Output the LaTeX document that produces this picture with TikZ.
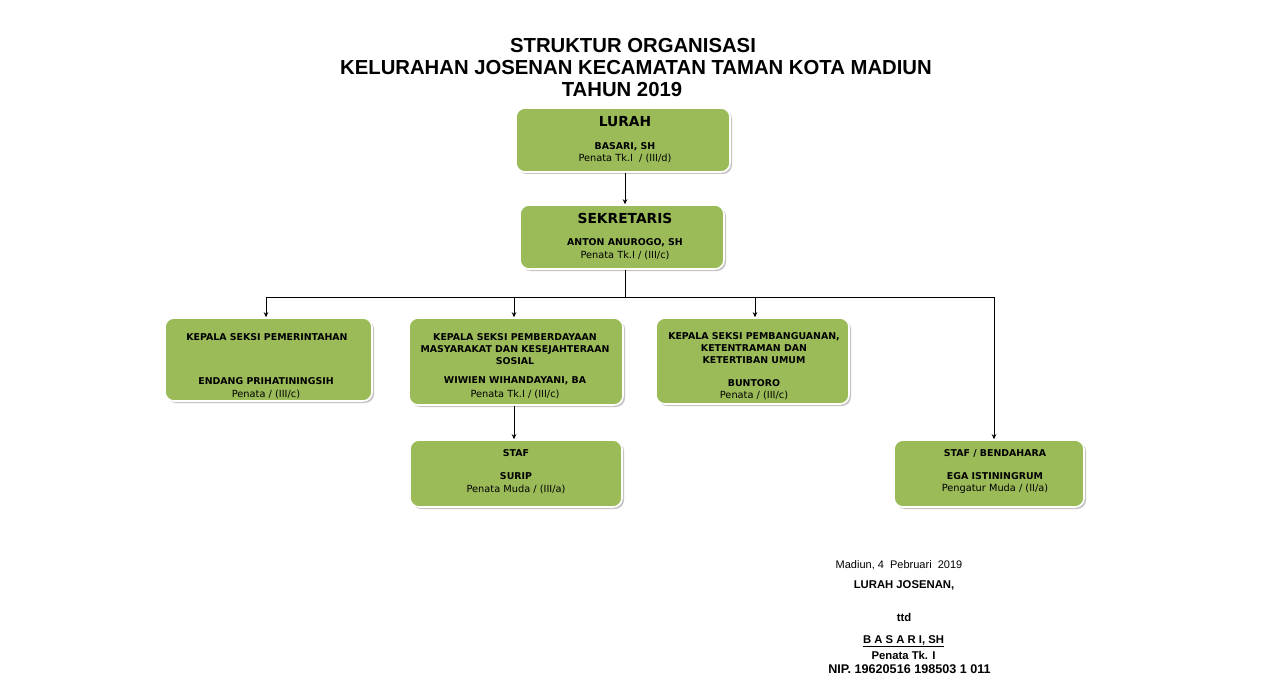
\documentclass[tikz,border=0pt]{standalone}
\usepackage{fontspec}
\setmainfont{DejaVu Sans}
\newfontfamily\arialfont{Liberation Sans}
\usepackage{tikz}
\usetikzlibrary{positioning}
\usetikzlibrary{arrows.meta}
\usetikzlibrary{shadows}

\definecolor{boxgreen}{HTML}{9BBB59}

\tikzset{
    box/.style={draw=white, line width=1.6pt, fill=boxgreen, rounded corners=9pt,
        drop shadow={shadow xshift=2pt, shadow yshift=-2pt, fill=black!45, opacity=0.5}},
    head/.style={inner sep=0pt, align=center, font=\fontsize{9.4}{12}\selectfont\bfseries},
    bighead/.style={inner sep=0pt, font=\fontsize{13.8}{16}\selectfont\bfseries},
    rank/.style={inner sep=0pt, font=\fontsize{9.8}{11}\selectfont},
    sign/.style={inner sep=0pt, font=\arialfont\fontsize{11}{13}\selectfont},
    signb/.style={inner sep=0pt, font=\arialfont\fontsize{11.3}{13}\selectfont\bfseries},
    arr/.style={-{Stealth[length=5pt, width=4.5pt]}, line width=0.7pt},
    conn/.style={line width=0.7pt}
}

\begin{document}
\begin{tikzpicture}[x=1pt, y=-1pt]
    \useasboundingbox[fill=white] (0,0) rectangle (1277,695);

    % title
    \node (title1) at (633,46) [inner sep=0pt, font=\arialfont\fontsize{20.3}{22}\selectfont\bfseries] {STRUKTUR ORGANISASI};
    \node (title2) at (636,68) [inner sep=0pt, font=\arialfont\fontsize{20.3}{22}\selectfont\bfseries] {KELURAHAN JOSENAN KECAMATAN TAMAN KOTA MADIUN};
    \node (title3) at (622,90) [inner sep=0pt, font=\arialfont\fontsize{20.3}{22}\selectfont\bfseries] {TAHUN 2019};

    % boxes
    \node (lurah) at (623,140) [box, minimum width=214pt, minimum height=64pt] {};
    \node (sekr) at (622,237) [box, minimum width=204pt, minimum height=64pt] {};
    \node (kspem) at (268.5,359.5) [box, minimum width=207pt, minimum height=83pt] {};
    \node (ksmas) at (516,361.5) [box, minimum width=214pt, minimum height=87pt] {};
    \node (ksbang) at (752.5,361) [box, minimum width=193pt, minimum height=86pt] {};
    \node (staf) at (516,473.5) [box, minimum width=212pt, minimum height=67pt] {};
    \node (bend) at (989,473.5) [box, minimum width=190pt, minimum height=67pt] {};

    % box texts
    \node (lurahT) at (625,122) [bighead] {LURAH};
    \node (lurahN) at (625,147) [head] {BASARI, SH};
    \node (lurahR) at (625,158) [rank] {Penata Tk.I \ / (III/d)};
    \node (sekrT) at (625,218) [bighead] {SEKRETARIS};
    \node (sekrN) at (625,243) [head] {ANTON ANUROGO, SH};
    \node (sekrR) at (625,255) [rank] {Penata Tk.I / (III/c)};
    \node (kspemT) at (267,337) [head] {KEPALA SEKSI PEMERINTAHAN};
    \node (kspemN) at (266,381) [head] {ENDANG PRIHATININGSIH};
    \node (kspemR) at (266,394) [rank] {Penata / (III/c)};
    \node (ksmasT) at (515,349) [head] {KEPALA SEKSI PEMBERDAYAAN\\MASYARAKAT DAN KESEJAHTERAAN\\SOSIAL};
    \node (ksmasN) at (515,381) [head] {WIWIEN WIHANDAYANI, BA};
    \node (ksmasR) at (515,394) [rank] {Penata Tk.I / (III/c)};
    \node (ksbangT) at (754,348.5) [head] {KEPALA SEKSI PEMBANGUANAN,\\KETENTRAMAN DAN\\KETERTIBAN UMUM};
    \node (ksbangN) at (754,383) [head] {BUNTORO};
    \node (ksbangR) at (754,395) [rank] {Penata / (III/c)};
    \node (stafT) at (516,453) [head] {STAF};
    \node (stafN) at (516,476) [head] {SURIP};
    \node (stafR) at (516,489) [rank] {Penata Muda / (III/a)};
    \node (bendT) at (995,453) [head] {STAF / BENDAHARA};
    \node (bendN) at (995,476) [head] {EGA ISTININGRUM};
    \node (bendR) at (995,489) [rank] {Pengatur Muda / (II/a)};

    % connectors
    \coordinate (busL) at (266,297);
    \coordinate (busR) at (994,297);
    \coordinate (busA) at (514,297);
    \coordinate (busB) at (755,297);
    \coordinate (busC) at (625,297);
    \draw[arr] (busC |- lurah.south) -- (busC |- sekr.north);
    \draw[conn] (busC |- sekr.south) -- (busC);
    \draw[conn] (busL) -- (busR);
    \draw[arr] (busL) -- (busL |- kspem.north);
    \draw[arr] (busA) -- (busA |- ksmas.north);
    \draw[arr] (busB) -- (busB |- ksbang.north);
    \draw[arr] (busR) -- (busR |- bend.north);
    \draw[arr] (busA |- ksmas.south) -- (busA |- staf.north);

    % signature
    \node (sdate) at (899,565) [sign] {Madiun, 4 \ Pebruari \ 2019};
    \node (sjab) at (904,585) [signb] {LURAH JOSENAN,};
    \node (sttd) at (904,617) [signb] {ttd};
    \node (sname) at (903.5,641) [signb] {\underline{B A S A R I, SH}};
    \node (spang) at (903.5,655) [signb] {Penata Tk. I};
    \node (snip) at (909.5,669) [signb, font=\arialfont\fontsize{12.6}{14}\selectfont\bfseries] {NIP. 19620516 198503 1 011};
\end{tikzpicture}
\end{document}
